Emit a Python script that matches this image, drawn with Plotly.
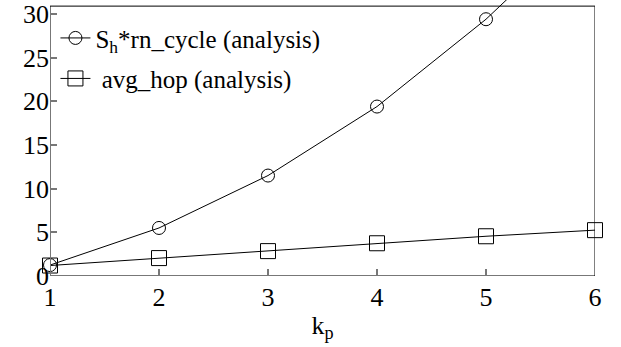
import plotly.graph_objects as go

# k_p values on the x axis
k_p = [1, 2, 3, 4, 5, 6]

# S_h * rn_cycle (analysis) -- last point runs off the top of the frame
sh_rn_cycle = [1.25, 5.5, 11.5, 19.4, 29.4, 41.2]

# avg_hop (analysis)
avg_hop = [1.2, 2.05, 2.85, 3.75, 4.55, 5.25]

y_ticks = [0, 5, 10, 15, 20, 25, 30]
frame_top = 30.9

FONT = "Liberation Serif"
tick_font = dict(family=FONT, size=26, color="black")

fig = go.Figure()

fig.add_trace(go.Scatter(
    x=k_p, y=sh_rn_cycle,
    mode="lines+markers",
    name="S<sub>h</sub>*rn_cycle (analysis)",
    legendgroup="a",
    line=dict(color="black", width=1),
    marker=dict(symbol="circle-open", size=13, color="black", line=dict(width=1)),
    cliponaxis=False,
))

fig.add_trace(go.Scatter(
    x=k_p, y=avg_hop,
    mode="lines+markers",
    name=" avg_hop (analysis)",
    legendgroup="b",
    line=dict(color="black", width=1),
    marker=dict(symbol="square-open", size=15, color="black", line=dict(width=1)),
    cliponaxis=False,
))

# frame: grey left/bottom axes, thin black top/right
fig.add_shape(type="line", xref="x", yref="y", x0=1, x1=1, y0=0, y1=frame_top,
              line=dict(color="#777777", width=2))
fig.add_shape(type="line", xref="x", yref="y", x0=1, x1=6, y0=0, y1=0,
              line=dict(color="#777777", width=2))
fig.add_shape(type="line", xref="x", yref="y", x0=1, x1=6, y0=frame_top, y1=frame_top,
              line=dict(color="black", width=1))
fig.add_shape(type="line", xref="x", yref="y", x0=6, x1=6, y0=0, y1=frame_top,
              line=dict(color="black", width=1))

fig.update_layout(
    width=621,
    height=347,
    margin=dict(l=50, r=26, t=0, b=71, autoexpand=False),
    paper_bgcolor="white",
    plot_bgcolor="white",
    font=dict(family=FONT, size=26, color="black"),
    showlegend=True,
    legend=dict(
        x=0.01, y=0.945, xanchor="left", yanchor="top",
        bgcolor="rgba(0,0,0,0)",
        font=dict(family=FONT, size=25, color="black"),
        traceorder="grouped",
        tracegroupgap=5,
        itemwidth=30,
    ),
)

fig.update_xaxes(
    range=[1, 6],
    tickvals=k_p,
    tickfont=tick_font,
    ticklabelstandoff=3,
    ticks="inside", ticklen=7, tickcolor="#777777", tickwidth=1.5,
    showgrid=False, zeroline=False, showline=False, automargin=False,
    title=dict(text="k<sub>p</sub>", standoff=4, font=dict(family=FONT, size=26, color="black")),
)

fig.update_yaxes(
    range=[0, 31.6],
    tickvals=y_ticks,
    tickfont=tick_font,
    ticks="inside", ticklen=7, tickcolor="#777777", tickwidth=1.5,
    showgrid=False, zeroline=False, showline=False, automargin=False,
)

fig.write_html(
    "out.html",
    config={"displayModeBar": False},
    post_script="document.body.style.margin='0';",
)
